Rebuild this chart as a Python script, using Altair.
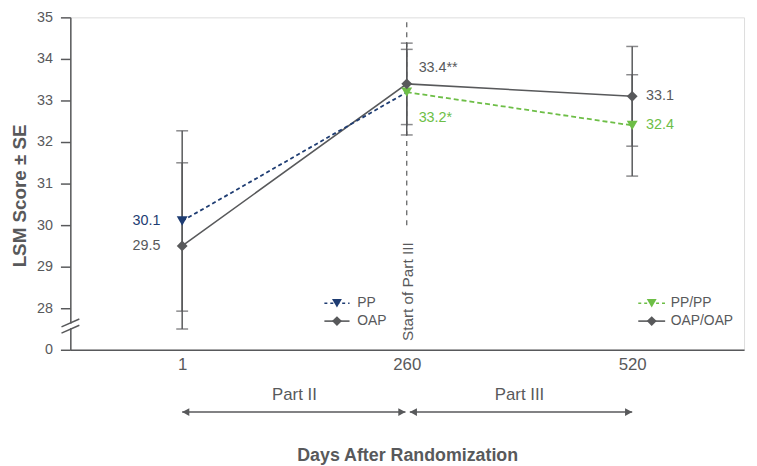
import altair as alt
import pandas as pd

# ---------------- data ----------------
DAYS = [1, 260, 520]

PP_DAY = [1, 260]
PP_LSM = [30.1, 33.2]
OAP_DAY = [1, 260]
OAP_LSM = [29.5, 33.4]
PPPP_DAY = [260, 520]
PPPP_LSM = [33.2, 32.4]
OAPOAP_DAY = [260, 520]
OAPOAP_LSM = [33.4, 33.1]

# error bars (mean +/- SE) at each plotted marker
ERR_DAY = [1, 1, 260, 260, 520, 520]
ERR_LSM = [30.1, 29.5, 33.4, 33.2, 33.1, 32.4]
ERR_SE = [2.17, 2.0, 0.98, 1.03, 1.2, 1.22]
LABEL_SUFFIX = ["", "", "**", "*", "", ""]

# y axis ticks; 27 is drawn as the broken-axis "0"
Y_TICKS = [27, 28, 29, 30, 31, 32, 33, 34, 35]

PARTS = ["Part II", "Part III"]
PART_START = [1, 260]
PART_END = [260, 520]

LEGEND_LEFT = ["PP", "OAP"]
LEGEND_RIGHT = ["PP/PP", "OAP/OAP"]

# ---------------- styles / layout ----------------
NAVY = "#1E3C72"
GREEN = "#6DBE46"
GRAY = "#58595B"
FONT = "Liberation Sans"

XS = alt.Scale(domain=[-128, 649], nice=False, zero=False)
YS = alt.Scale(domain=[27, 35], nice=False, zero=False)

X_AXIS = alt.Axis(values=DAYS, format="d", ticks=False, tickSize=0, grid=False,
                  domainColor=GRAY, domainWidth=1.5, labelColor=GRAY,
                  labelFontSize=17, labelPadding=7, labelFont=FONT,
                  title="Days After Randomization", titleFont=FONT,
                  titleFontSize=18, titleFontWeight="bold", titleColor=GRAY,
                  titlePadding=75)
Y_AXIS = alt.Axis(values=Y_TICKS, labelExpr="datum.value == 27 ? '0' : datum.label",
                  tickSize=10, tickColor=GRAY, tickWidth=1.5, grid=False,
                  domainColor=GRAY, domainWidth=1.5, labelColor=GRAY,
                  labelFontSize=14.5, labelPadding=8, labelFont=FONT,
                  title="LSM Score ± SE", titleFont=FONT, titleFontSize=19,
                  titleFontWeight="bold", titleColor=GRAY,
                  titleX=-41, titleY=180)


def X(field="day"):
    return alt.X(f"{field}:Q", scale=XS, axis=X_AXIS, title="Days After Randomization")


def Y(field="v"):
    return alt.Y(f"{field}:Q", scale=YS, axis=Y_AXIS, title="LSM Score ± SE")


layers = []

# vertical dashed "Start of Part III" line
start_df = pd.DataFrame({"day": [PART_END[0]], "v": [30.0], "v2": [35.0]})
layers.append(alt.Chart(start_df).mark_rule(color=GRAY, strokeWidth=1.2, strokeDash=[5, 5])
              .encode(x=X(), y=Y(), y2="v2:Q"))
layers.append(alt.Chart(pd.DataFrame({"day": [PART_END[0]], "v": [27.21], "t": ["Start of Part III"]}))
              .mark_text(angle=270, align="left", baseline="middle", fontSize=15.5,
                         font=FONT, color=GRAY, dx=0, dy=1)
              .encode(x=X(), y=Y(), text="t:N"))

# error bars
err_df = pd.DataFrame({"day": ERR_DAY, "lo": [m - s for m, s in zip(ERR_LSM, ERR_SE)],
                       "hi": [m + s for m, s in zip(ERR_LSM, ERR_SE)]})
layers.append(alt.Chart(err_df).mark_rule(color=GRAY, strokeWidth=1.5)
              .encode(x=X(), y=Y("lo"), y2="hi:Q"))
for f in ["lo", "hi"]:
    layers.append(alt.Chart(err_df).mark_tick(color=GRAY, orient="horizontal", size=12, thickness=1.5)
                  .encode(x=X(), y=Y(f)))

# lines
def line_df(days, vals):
    return pd.DataFrame({"day": days, "v": vals})

layers.append(alt.Chart(line_df(OAP_DAY + OAPOAP_DAY[1:], OAP_LSM + OAPOAP_LSM[1:]))
              .mark_line(color=GRAY, strokeWidth=1.6).encode(x=X(), y=Y()))
layers.append(alt.Chart(line_df(PP_DAY, PP_LSM))
              .mark_line(color=NAVY, strokeWidth=1.8, strokeDash=[4, 3]).encode(x=X(), y=Y()))
layers.append(alt.Chart(line_df(PPPP_DAY, PPPP_LSM))
              .mark_line(color=GREEN, strokeWidth=1.8, strokeDash=[5, 3]).encode(x=X(), y=Y()))

# markers
layers.append(alt.Chart(line_df(PPPP_DAY, PPPP_LSM))
              .mark_point(shape="triangle-down", filled=True, size=120, color=GREEN, opacity=1)
              .encode(x=X(), y=Y()))
layers.append(alt.Chart(line_df(PP_DAY[:1], PP_LSM[:1]))
              .mark_point(shape="triangle-down", filled=True, size=120, color=NAVY, opacity=1)
              .encode(x=X(), y=Y()))
layers.append(alt.Chart(line_df(OAP_DAY + OAPOAP_DAY[1:], OAP_LSM + OAPOAP_LSM[1:]))
              .mark_point(shape="diamond", filled=True, size=120, color=GRAY, opacity=1)
              .encode(x=X(), y=Y()))

# value labels
label_styles = [  # color, align, dx, dy
    (NAVY, "right", -22, 0),
    (GRAY, "right", -22, 0),
    (GRAY, "left", 12, -16),
    (GREEN, "left", 12, 26),
    (GRAY, "left", 14, 0),
    (GREEN, "left", 14, 0),
]
for d, m, suf, (col, al, dx, dy) in zip(ERR_DAY, ERR_LSM, LABEL_SUFFIX, label_styles):
    df = pd.DataFrame({"day": [d], "v": [m], "t": [f"{m:.1f}{suf}"]})
    layers.append(alt.Chart(df).mark_text(color=col, align=al, baseline="middle", dx=dx, dy=dy,
                                          fontSize=14.5, font=FONT)
                  .encode(x=X(), y=Y(), text="t:N"))

# legends (manual, placed inside the plot like the reference)
def legend(names, x0, x1, xm, xt, colors, shapes, dashes):
    out = []
    ys = [28.12, 27.69]
    for name, yv, c, sh, da in zip(names, ys, colors, shapes, dashes):
        ldf = pd.DataFrame({"day": [x0, x1], "v": [yv, yv]})
        kw = dict(color=c, strokeWidth=1.6)
        if da:
            kw["strokeDash"] = da
        out.append(alt.Chart(ldf).mark_line(**kw).encode(x=X(), y=Y()))
        out.append(alt.Chart(pd.DataFrame({"day": [xm], "v": [yv]}))
                   .mark_point(shape=sh, filled=True, size=100, color=c, opacity=1)
                   .encode(x=X(), y=Y()))
        out.append(alt.Chart(pd.DataFrame({"day": [xt], "v": [yv], "t": [name]}))
                   .mark_text(align="left", baseline="middle", fontSize=14, font=FONT, color=GRAY)
                   .encode(x=X(), y=Y(), text="t:N"))
    return out

layers += legend(LEGEND_LEFT, 165, 194, 179.5, 203, [NAVY, GRAY],
                 ["triangle-down", "diamond"], [[3, 3], None])
layers += legend(LEGEND_RIGHT, 527, 558, 542.5, 564.5, [GREEN, GRAY],
                 ["triangle-down", "diamond"], [[3, 3], None])

# axis break marks on the y axis
brk = pd.DataFrame({"day": [-138.2, -138.2], "day2": [-117.6, -117.6],
                    "v": [27.55, 27.40], "v2": [27.74, 27.59]})
layers.append(alt.Chart(pd.DataFrame({"day": [-128], "v": [27.52], "v2": [27.63]}))
              .mark_rule(color="white", strokeWidth=4).encode(x=X(), y=Y(), y2="v2:Q"))
layers.append(alt.Chart(brk).mark_rule(color=GRAY, strokeWidth=1.5)
              .encode(x=X(), x2="day2:Q", y=Y(), y2="v2:Q"))

# Part II / Part III arrows under the axis
ARROW_V = 25.5
arr = pd.DataFrame({"day": [PART_START[0], PART_START[1] + 3.5],
                    "day2": [PART_END[0] - 1.5, PART_END[1]],
                    "v": [ARROW_V, ARROW_V]})
layers.append(alt.Chart(arr).mark_rule(color=GRAY, strokeWidth=1.5)
              .encode(x=X(), x2="day2:Q", y=Y()))
right_heads = pd.DataFrame({"day": [PART_END[0] - 1.5, PART_END[1]], "v": [ARROW_V, ARROW_V]})
left_heads = pd.DataFrame({"day": [PART_START[0], PART_START[1] + 3.5], "v": [ARROW_V, ARROW_V]})
layers.append(alt.Chart(right_heads)
              .mark_point(shape="M0,0L-1.8,-1L-1.8,1Z", filled=True, size=64, color=GRAY, opacity=1)
              .encode(x=X(), y=Y()))
layers.append(alt.Chart(left_heads)
              .mark_point(shape="M0,0L1.8,-1L1.8,1Z", filled=True, size=64, color=GRAY, opacity=1)
              .encode(x=X(), y=Y()))
mid_df = pd.DataFrame({"day": [(a + b) / 2 for a, b in zip(PART_START, PART_END)],
                       "v": [25.9, 25.9], "t": PARTS})
layers.append(alt.Chart(mid_df).mark_text(fontSize=17, font=FONT, color=GRAY, baseline="middle")
              .encode(x=X(), y=Y(), text="t:N"))

chart = (alt.layer(*layers)
         .properties(width=681, height=336,
                     autosize=alt.AutoSizeParams(type="none"),
                     padding={"left": 63, "top": 7, "right": 5, "bottom": 115})
         .configure_view(strokeWidth=0)
         .configure(font=FONT))

chart.save("out.html", embed_options={"renderer": "svg", "actions": False})
